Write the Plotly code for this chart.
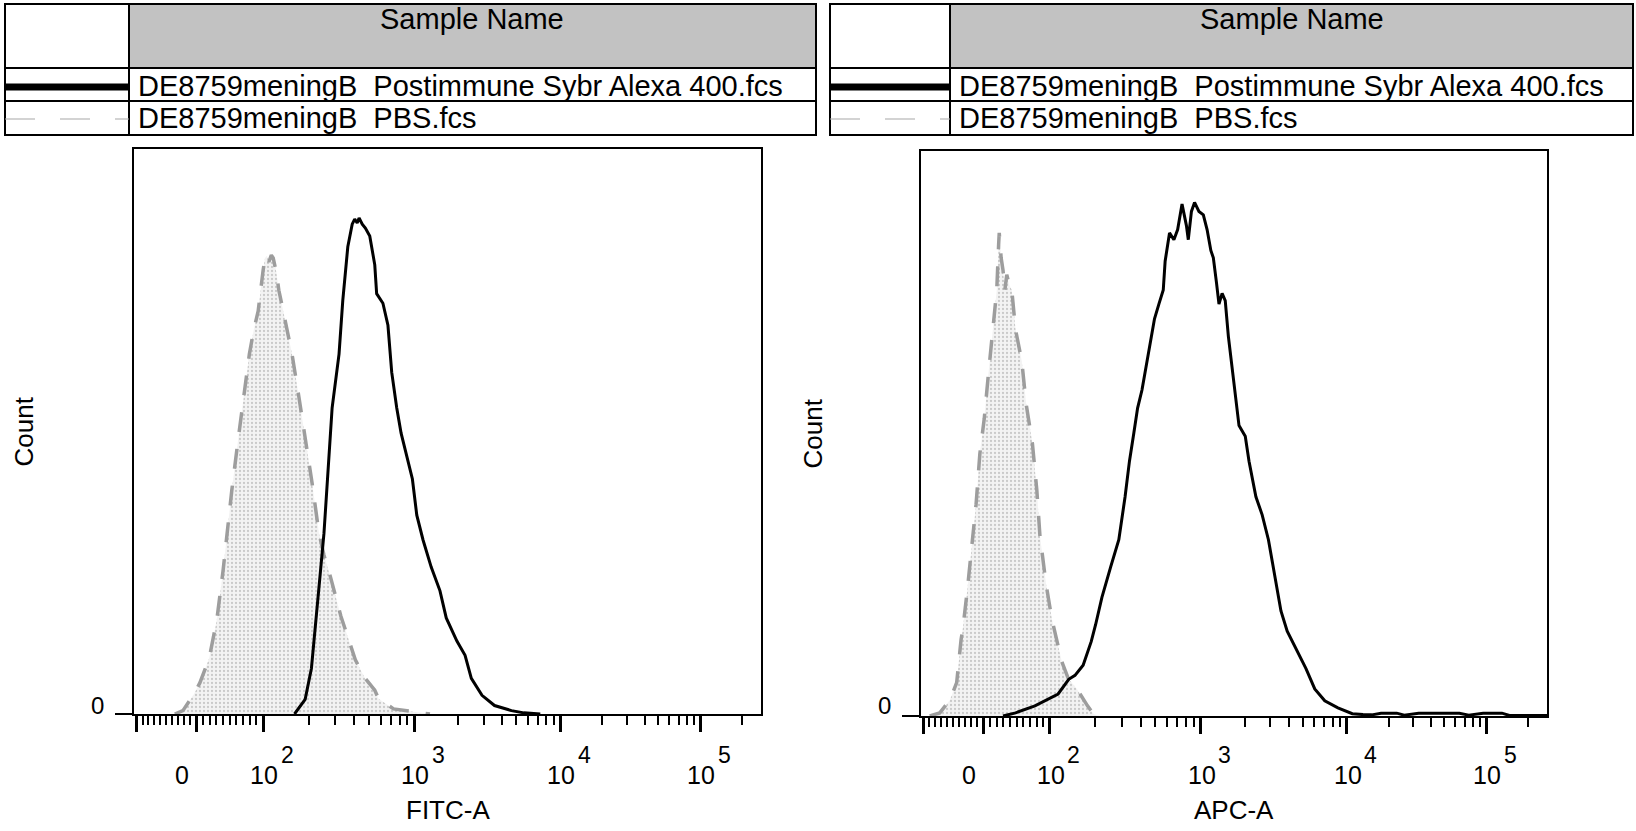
import numpy as np
import plotly.graph_objects as go

W, H = 1636, 831
FONT = "Liberation Sans, Arial, sans-serif"

# ---- biexponential display axis: value key -> display channel (0..1000) ----
AXIS_KEYS = [-2, 0, 2, 3, 4, 5, 6]
AXIS_CHANNELS = [4, 99.5, 206, 447, 680, 903, 1126]

MAJOR_VALUES = [-100, 0, 1e2, 1e3, 1e4, 1e5]
MINOR_VALUES = ([-90, -80, -70, -60, -50, -40, -30, -20, -10, 10,
                 20, 30, 40, 50, 60, 70, 80, 90]
                + [m * 10 ** k for k in (2, 3, 4) for m in range(2, 10)]
                + [2e5])
LABEL_VALUES = [0, 1e2, 1e3, 1e4, 1e5]
LABEL_BASES = ["0", "10", "10", "10", "10"]
LABEL_EXPONENTS = ["", "2", "3", "4", "5"]

# ---- histograms (display channel, count) ----
FITC_POST_CH = [256, 273, 283, 290, 297, 303, 309, 316, 327, 333, 341, 348, 352,
                356, 359, 364, 369, 376, 384, 387, 397, 405, 411, 419, 426, 433,
                444, 451, 461, 474, 488, 498, 515, 528, 538, 555, 575, 602, 622, 648]
FITC_POST_COUNT = [0, 2.6, 8.1, 15.8, 24.8, 32.0, 43.0, 54.2, 63.7, 73.2, 82.7, 86.7,
                   87.6, 86.9, 87.8, 86.7, 86.0, 84.6, 79.5, 74.4, 72.7, 68.8, 60.5,
                   54.2, 49.7, 46.6, 41.6, 35.2, 30.8, 26.0, 21.8, 17.0, 12.9, 10.4,
                   6.3, 3.3, 1.5, 0.6, 0.2, 0]

FITC_PBS_CH = [65, 78, 95, 105, 120, 132, 142, 148, 156, 166, 174, 184, 191, 198,
               206, 209, 212, 215, 219, 222, 227, 231, 238, 252, 263, 273, 284, 295,
               303, 313, 330, 353, 368, 384, 390, 414, 448, 472]
FITC_PBS_COUNT = [0, 0.6, 3.4, 5.5, 9.9, 16.6, 25.3, 32.0, 39.6, 48.5, 54.9, 63.7,
                  68.0, 71.3, 78.6, 80.7, 81.1, 80.0, 81.2, 80.7, 78.2, 75.0, 71.3,
                  63.7, 56.1, 49.2, 40.9, 32.0, 28.1, 24.4, 17.3, 9.6, 6.4, 4.2, 2.7,
                  0.9, 0.35, 0]

APC_POST_CH = [131, 151, 182, 219, 236, 246, 259, 272, 279, 289, 303, 316, 326, 333,
               340, 346, 353, 363, 373, 380, 387, 390, 397, 404, 410, 417, 424, 427,
               432, 437, 444, 451, 457, 463, 467, 472, 476, 481, 486, 491, 498, 508,
               518, 524, 535, 545, 555, 565, 575, 585, 602, 615, 629, 645, 666, 689,
               706, 720, 735, 760, 772, 795, 860, 875, 898, 928, 940, 1000]
APC_POST_COUNT = [0, 0.55, 1.8, 3.9, 6.5, 7.2, 9.0, 13.2, 16.2, 21.0, 26.4, 31.2,
                  38.8, 45.1, 50.1, 54.5, 57.7, 64.0, 70.3, 72.9, 75.4, 80.5, 85.5,
                  84.3, 86.1, 90.6, 86.8, 84.3, 89.3, 90.9, 89.3, 88.7, 86.1, 82.4,
                  81.1, 76.7, 72.9, 74.8, 73.5, 67.2, 60.9, 51.4, 49.5, 45.1, 38.8,
                  35.6, 31.2, 25.1, 18.6, 15.0, 11.3, 8.4, 4.8, 2.7, 1.45, 0.4, 0.25,
                  0.2, 0.5, 0.5, 0.15, 0.5, 0.5, 0.15, 0.5, 0.5, 0.1, 0.1]

APC_PBS_CH = [14, 30, 46, 57, 64, 67, 74, 81, 88, 94, 101, 108, 114, 121, 124, 125,
              128, 131, 134, 137, 141, 145, 151, 161, 168, 178, 185, 190, 200, 209,
              215, 225, 235, 249, 266, 276, 286]
APC_PBS_COUNT = [0, 0.55, 2.8, 5.9, 13.5, 15.6, 22.3, 29.3, 37.5, 46.4, 52.6, 60.9,
                 67.8, 75.4, 83.4, 85.5, 81.1, 78.9, 75.4, 78.1, 76.3, 75.4, 68.4,
                 62.8, 55.2, 48.2, 40.0, 31.9, 23.2, 17.2, 14.3, 9.6, 6.7, 4.8, 1.8,
                 0.3, 0]

SAMPLE_POST = "DE8759meningB  Postimmune Sybr Alexa 400.fcs"
SAMPLE_PBS = "DE8759meningB  PBS.fcs"
PANELS = [
    dict(title="FITC-A", post=(FITC_POST_CH, FITC_POST_COUNT), pbs=(FITC_PBS_CH, FITC_PBS_COUNT),
         box=(134, 761, 149, 714), table=(5, 129, 816), count_x=23, zero_x=97),
    dict(title="APC-A", post=(APC_POST_CH, APC_POST_COUNT), pbs=(APC_PBS_CH, APC_PBS_COUNT),
         box=(921, 1547, 151, 716), table=(830, 950, 1633), count_x=812, zero_x=884),
]


def to_channel(values):
    v = np.asarray(values, dtype=float)
    mag = np.maximum(np.abs(v), 1.0)
    key = np.where(np.abs(v) >= 100, np.sign(v) * np.log10(mag), 2.0 * v / 100.0)
    return np.interp(key, AXIS_KEYS, AXIS_CHANNELS)


def px(x):
    return x / W


def py(y):
    return 1 - y / H


def label(x, y, text, size, xref="paper", xanchor="center", **kw):
    return dict(x=x, y=y, xref=xref, yref="paper", text=text, showarrow=False,
                xanchor=xanchor, yanchor="middle",
                font=dict(family=FONT, size=size, color="black"), **kw)


fig = go.Figure()
shapes, annotations = [], []

for i, p in enumerate(PANELS):
    sfx = "" if i == 0 else str(i + 1)
    xa, ya = "x" + sfx, "y" + sfx
    x0, x1, y0, y1 = p["box"]

    fig.add_trace(go.Scatter(
        x=p["pbs"][0], y=p["pbs"][1], mode="lines", xaxis=xa, yaxis=ya,
        line=dict(color="#9d9d9d", width=3.5, dash="20px,17px"),
        fill="tozeroy", fillcolor="#f0f0f0",
        fillpattern=dict(shape=".", fgcolor="#a0a0a0", bgcolor="#f3f3f3",
                         size=4, solidity=0.25),
        hoverinfo="skip", showlegend=False))
    fig.add_trace(go.Scatter(
        x=p["post"][0], y=p["post"][1], mode="lines", xaxis=xa, yaxis=ya,
        line=dict(color="black", width=3),
        hoverinfo="skip", showlegend=False))

    common = dict(showgrid=False, zeroline=False, showline=True, mirror=True,
                  linecolor="black", linewidth=2, ticks="outside",
                  tickcolor="black", showticklabels=False, fixedrange=True)
    fig.layout["xaxis" + sfx] = dict(
        common, domain=[px(x0), px(x1)], range=[0, 1000], anchor=ya,
        tickmode="array", tickvals=list(to_channel(MAJOR_VALUES)),
        ticklen=16, tickwidth=2.5,
        minor=dict(tickmode="array", tickvals=list(to_channel(MINOR_VALUES)),
                   ticks="outside", ticklen=9, tickwidth=2, tickcolor="black"))
    fig.layout["yaxis" + sfx] = dict(
        common, domain=[py(y1), py(y0)], range=[0, 100], anchor=xa,
        tickmode="array", tickvals=[0], ticklen=17, tickwidth=2)

    # axis tick labels: "10" centred on the decade tick, exponent up and right
    for val, base, exp in zip(LABEL_VALUES, LABEL_BASES, LABEL_EXPONENTS):
        cx = float(to_channel([val])[0])
        annotations.append(label(cx, py(775), base, 25, xref=xa,
                                 xshift=(-14 if not exp else 1)))
        if exp:
            annotations.append(label(cx, py(755), exp, 23, xref=xa, xshift=24))
    annotations.append(label(px((x0 + x1) / 2), py(810), p["title"], 26))
    annotations.append(label(px(p["count_x"]), py((y0 + y1) / 2), "Count", 26,
                             textangle=-90))
    annotations.append(label(px(p["zero_x"]), py(705), "0", 24))

    # sample table above the histogram
    tl, tdiv, tr = p["table"]
    t_top, t_head, t_row, t_bot = 4, 68, 101, 135
    shapes.append(dict(type="rect", xref="paper", yref="paper",
                       x0=px(tdiv + 1), x1=px(tr - 1), y0=py(t_head), y1=py(t_top + 1),
                       fillcolor="#c2c2c2", line=dict(width=0), layer="below"))
    shapes.append(dict(type="rect", xref="paper", yref="paper",
                       x0=px(tl), x1=px(tr), y0=py(t_bot), y1=py(t_top),
                       line=dict(color="black", width=2)))
    for yy in (t_head, t_row):
        shapes.append(dict(type="line", xref="paper", yref="paper",
                           x0=px(tl), x1=px(tr), y0=py(yy), y1=py(yy),
                           line=dict(color="black", width=2)))
    shapes.append(dict(type="line", xref="paper", yref="paper",
                       x0=px(tdiv), x1=px(tdiv), y0=py(t_bot), y1=py(t_top),
                       line=dict(color="black", width=2)))
    shapes.append(dict(type="line", xref="paper", yref="paper",
                       x0=px(tl), x1=px(tdiv), y0=py(87), y1=py(87),
                       line=dict(color="black", width=7)))
    shapes.append(dict(type="line", xref="paper", yref="paper",
                       x0=px(tl), x1=px(tdiv), y0=py(119), y1=py(119),
                       line=dict(color="#a8a8a8", width=1.2, dash="30px,25px")))
    annotations.append(label(px((tdiv + tr) / 2), py(19), "Sample Name", 29))
    for yy, name in ((86, SAMPLE_POST), (118, SAMPLE_PBS)):
        annotations.append(label(px(tdiv + 7), py(yy), name, 29, xanchor="left"))

fig.update_layout(
    width=W, height=H, margin=dict(l=0, r=0, t=0, b=0),
    paper_bgcolor="white", plot_bgcolor="white",
    shapes=shapes, annotations=annotations, showlegend=False,
    font=dict(family=FONT, color="black"),
)

fig.write_html("out.html")
